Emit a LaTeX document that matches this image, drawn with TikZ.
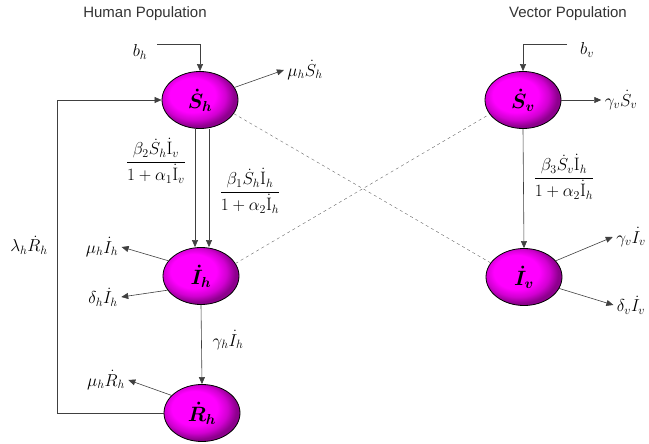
\documentclass[tikz,border=0pt]{standalone}
\usepackage{amsmath,amssymb}
\usepackage{fontspec}
\newfontfamily\arialfont{Liberation Sans}
\usetikzlibrary{positioning, shapes.geometric, arrows.meta}

\pgfdeclareradialshading{compshade}{\pgfpoint{-7bp}{6bp}}{%
  color(0bp)=(magenta); color(15bp)=(magenta);
  color(21bp)=(magenta!82!black); color(26bp)=(magenta!55!black);
  color(50bp)=(magenta!55!black)}

\begin{document}
\begin{tikzpicture}
  [x=1pt,y=-1pt,
   every node/.style={font=\fontsize{18}{20}\selectfont},
   comp/.style={ellipse,draw,thick,minimum width=76pt,minimum height=57pt,
     shading=compshade,font=\fontsize{21}{23}\selectfont},
   title/.style={font=\arialfont\fontsize{15}{18}\selectfont,text=black!80},
   flow/.style={-{Triangle[length=7pt,width=6pt]},black!75,semithick},
   link/.style={dashed,black!60}]
  \useasboundingbox (0,0) rectangle (649,444);

  % titles
  \node[title] (hpop) at (145,14) {Human Population};
  \node[title] (vpop) at (568,14) {Vector Population};

  % compartments
  \node[comp] (sh) at (200,100) {$\boldsymbol{\dot{S}_h}$};
  \node[comp] (ih) at (201,276) {$\boldsymbol{\dot{I}_h}$};
  \node[comp] (rh) at (202,413) {$\boldsymbol{\dot{R}_h}$};
  \node[comp] (sv) at (523,100) {$\boldsymbol{\dot{S}_v}$};
  \node[comp] (iv) at (524,277) {$\boldsymbol{\dot{I}_v}$};

  % rates, human side
  \node (bh)   at (140,52)  {$b_h$};
  \coordinate (bhin) at (157,44);
  \node (mush) at (305,70)  {$\mu_h\dot{S}_h$};
  \node (lrh)  at (29,245)  {$\lambda_h\dot{R}_h$};
  \node (fvh)  at (156,161) {$\dfrac{\beta_2\dot{S}_h\dot{\mathrm{I}}_v}{1+\alpha_1\dot{\mathrm{I}}_v}$};
  \node (fhh)  at (250,191) {$\dfrac{\beta_1\dot{S}_h\dot{\mathrm{I}}_h}{1+\alpha_2\dot{\mathrm{I}}_h}$};
  \node (muih) at (102,247) {$\mu_h\dot{I}_h$};
  \node (dih)  at (103,297) {$\delta_h\dot{I}_h$};
  \node (gih)  at (228,340) {$\gamma_h\dot{I}_h$};
  \node (murh) at (106,380) {$\mu_h\dot{R}_h$};

  % rates, vector side
  \node (bv)   at (587,50)  {$b_v$};
  \coordinate (bvin) at (567,44);
  \node (gsv)  at (621,100) {$\gamma_v\dot{S}_v$};
  \node (fhv)  at (564,177) {$\dfrac{\beta_3\dot{S}_v\dot{\mathrm{I}}_h}{1+\alpha_2\dot{\mathrm{I}}_h}$};
  \node (giv)  at (631,237) {$\gamma_v\dot{I}_v$};
  \node (div)  at (631,305) {$\delta_v\dot{I}_v$};

  % flows
  \draw[flow] (bhin) -| (sh.north);
  \draw[flow] (sh.20) -- (mush.west);
  \draw[flow] (rh.west) -- ++(-106,0) |- (sh.west);
  \draw[flow] ([xshift=-5pt]sh.south) -- ([xshift=-6pt]ih.north);
  \draw[flow] ([xshift=9pt]sh.south) -- ([xshift=8pt]ih.north);
  \draw[flow] (ih.155) -- (muih.east);
  \draw[flow] (ih.203) -- (dih.east);
  \draw[flow] (ih.south) -- (rh.north);
  \draw[flow] (rh.150) -- (murh.east);

  \draw[flow] (bvin) -| (sv.north);
  \draw[flow] (sv.east) -- (gsv.west);
  \draw[flow] (sv.south) -- (iv.north);
  \draw[flow] (iv.27) -- (giv.west);
  \draw[flow] (iv.-18) -- (div.west);

  % cross infection
  \draw[link] (sh.-22) -- (iv.157);
  \draw[link] (ih.20) -- (sv.203);
\end{tikzpicture}
\end{document}
